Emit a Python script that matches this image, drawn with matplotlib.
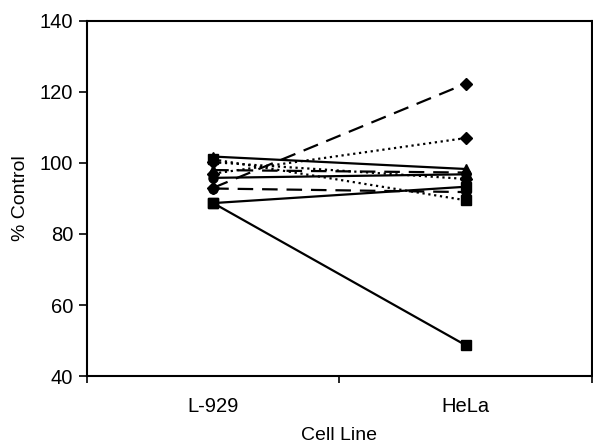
import matplotlib.pyplot as plt
import numpy as np

plt.rcParams['font.family'] = ['Liberation Sans', 'DejaVu Sans']

cell_lines = ['L-929', 'HeLa']

# % control for each compound, L-929 then HeLa
s1 = [88.7, 48.7]
s2 = [93.0, 122.3]
s3 = [97.0, 107.0]
s4 = [88.7, 93.3]
s5 = [95.8, 96.8]
s6 = [92.8, 91.8]
s7 = [101.0, 89.5]
s8 = [98.0, 97.3]
s9 = [100.2, 95.5]
s10 = [101.8, 98.3]

series = [
    (s1, '-', 's'),
    (s2, (0, (7, 4)), 'D'),
    (s3, ':', 'D'),
    (s4, '-', 's'),
    (s5, '-', 'o'),
    (s6, (0, (7, 4)), 'o'),
    (s7, ':', 's'),
    (s8, (0, (7, 4)), '^'),
    (s9, ':', 'D'),
    (s10, '-', '^'),
]

fig = plt.figure(figsize=(5.93, 4.44), dpi=100)
ax = fig.add_axes([0.1467, 0.153, 0.8513, 0.8])

x = np.arange(len(cell_lines))
for vals, ls, mk in series:
    ax.plot(x, vals, color='black', linestyle=ls, linewidth=1.6,
            marker=mk, markersize=6.5, markerfacecolor='black',
            markeredgecolor='black')

ax.set_xlim(-0.5, 1.5)
ax.set_ylim(40, 140)
ax.set_yticks([40, 60, 80, 100, 120, 140])
ax.set_xticks([-0.5, 0.5, 1.5])
ax.set_xticklabels([])
ax.set_xticks(x, minor=True)
ax.set_xticklabels(cell_lines, minor=True)
ax.tick_params(axis='x', which='minor', length=0, pad=15, labelsize=14.5)
ax.tick_params(axis='x', which='major', direction='out', length=5, width=1.2)
ax.tick_params(axis='y', direction='out', length=6, width=1.2, labelsize=14.5, pad=4)

for sp in ax.spines.values():
    sp.set_linewidth(1.5)

ax.set_ylabel('% Control', fontsize=14)
ax.yaxis.set_label_coords(-0.115, 0.5)
ax.set_xlabel('Cell Line', fontsize=14)
ax.xaxis.set_label_coords(0.5, -0.142)

fig.savefig('out.png', dpi=100)
